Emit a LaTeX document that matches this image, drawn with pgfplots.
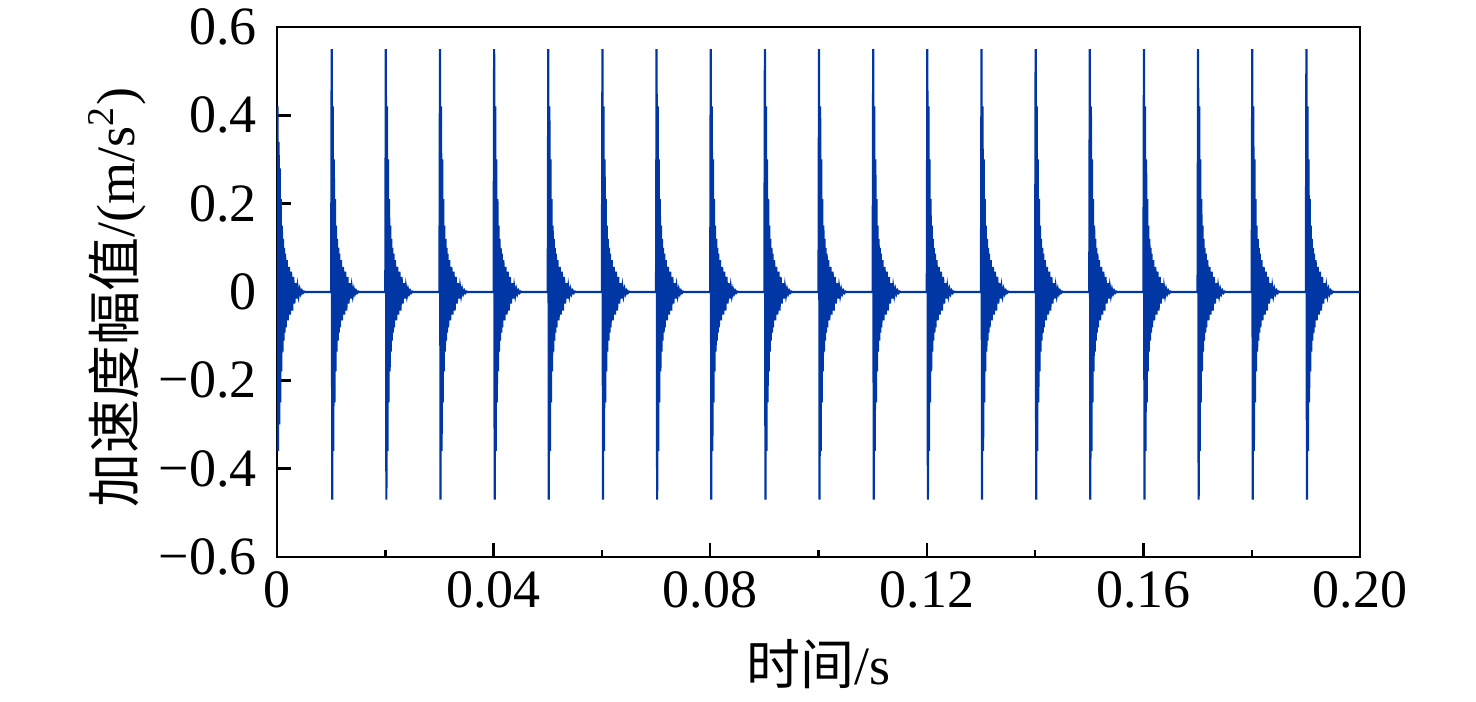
\documentclass[border=0pt]{standalone}
\usepackage{fontspec}
\setmainfont{Liberation Serif}
\newfontfamily\cjk{Noto Sans CJK SC}
\usepackage{pgfplots}
\pgfplotsset{compat=1.18}
\definecolor{sig}{RGB}{0,55,165}
\newcommand\myfont{\fontsize{13.5pt}{16pt}\selectfont}
\begin{document}
\begin{tikzpicture}
\path[use as bounding box] (-69.25pt,-36.25pt) rectangle (299.75pt,139.25pt);
\begin{axis}[
  at={(0,0)}, anchor=south west,
  scale only axis, width=270.75pt, height=132.5pt,
  xmin=0, xmax=0.2, ymin=-0.6, ymax=0.6,
  axis line style={line width=0.6pt, black},
  tick pos=left, tick align=inside,
  major tick length=3.4pt, minor tick length=1.8pt,
  tick style={line width=0.6pt, black},
  xtick={0,0.04,0.08,0.12,0.16,0.2},
  xticklabels={0,0.04,0.08,0.12,0.16,0.20},
  minor xtick={0.02,0.06,0.10,0.14,0.18},
  ytick={-0.6,-0.4,-0.2,0,0.2,0.4,0.6},
  yticklabels={−0.6,−0.4,−0.2,0,0.2,0.4,0.6},
  ticklabel style={font=\myfont},
  yticklabel style={xshift=-1.5pt},
  every axis x label/.style={at={(axis description cs:0.5,-0.202)}, anchor=center, font=\myfont},
  every axis y label/.style={at={(axis description cs:-0.1477,0.489)}, rotate=90, anchor=center, font=\myfont},
  xlabel={{\cjk 时间}/s},
  ylabel={{\cjk 加速度幅值}/(m/s\textsuperscript{2})},
]
\addplot[sig, line width=0.55pt] coordinates {
(0.0000,0) (0.0001,0.42) (0.0002,-0.36) (0.0003,0.34) (0.0004,-0.30) (0.0005,0.28) (0.0006,-0.25) (0.0007,0.21) (0.0008,-0.18) (0.0009,0.15) (0.0010,-0.135) (0.0011,0.12) (0.0012,-0.11) (0.0013,0.10) (0.0014,-0.092) (0.0015,0.087) (0.0016,-0.08) (0.0018,0.072) (0.0020,-0.064) (0.0022,0.057) (0.0024,-0.051) (0.0026,0.046) (0.0028,-0.042) (0.0030,0.034) (0.0032,-0.026) (0.0034,0.020) (0.0036,-0.015) (0.0038,0.011) (0.0040,-0.008) (0.0042,0.006) (0.0044,-0.004) (0.0046,0.003) (0.0048,-0.002) (0.0050,0.001) (0.0052,0)
(0.0100,0) (0.0101,0.55) (0.0102,-0.47) (0.0103,0.42) (0.0104,-0.36) (0.0105,0.30) (0.0106,-0.25) (0.0107,0.21) (0.0108,-0.18) (0.0109,0.15) (0.0110,-0.135) (0.0111,0.12) (0.0112,-0.11) (0.0113,0.10) (0.0114,-0.092) (0.0115,0.087) (0.0116,-0.08) (0.0118,0.072) (0.0120,-0.064) (0.0122,0.057) (0.0124,-0.051) (0.0126,0.046) (0.0128,-0.042) (0.0130,0.034) (0.0132,-0.026) (0.0134,0.020) (0.0136,-0.015) (0.0138,0.011) (0.0140,-0.008) (0.0142,0.006) (0.0144,-0.004) (0.0146,0.003) (0.0148,-0.002) (0.0150,0.001) (0.0152,0)
(0.0200,0) (0.0201,0.55) (0.0202,-0.47) (0.0203,0.42) (0.0204,-0.36) (0.0205,0.30) (0.0206,-0.25) (0.0207,0.21) (0.0208,-0.18) (0.0209,0.15) (0.0210,-0.135) (0.0211,0.12) (0.0212,-0.11) (0.0213,0.10) (0.0214,-0.092) (0.0215,0.087) (0.0216,-0.08) (0.0218,0.072) (0.0220,-0.064) (0.0222,0.057) (0.0224,-0.051) (0.0226,0.046) (0.0228,-0.042) (0.0230,0.034) (0.0232,-0.026) (0.0234,0.020) (0.0236,-0.015) (0.0238,0.011) (0.0240,-0.008) (0.0242,0.006) (0.0244,-0.004) (0.0246,0.003) (0.0248,-0.002) (0.0250,0.001) (0.0252,0)
(0.0300,0) (0.0301,0.55) (0.0302,-0.47) (0.0303,0.42) (0.0304,-0.36) (0.0305,0.30) (0.0306,-0.25) (0.0307,0.21) (0.0308,-0.18) (0.0309,0.15) (0.0310,-0.135) (0.0311,0.12) (0.0312,-0.11) (0.0313,0.10) (0.0314,-0.092) (0.0315,0.087) (0.0316,-0.08) (0.0318,0.072) (0.0320,-0.064) (0.0322,0.057) (0.0324,-0.051) (0.0326,0.046) (0.0328,-0.042) (0.0330,0.034) (0.0332,-0.026) (0.0334,0.020) (0.0336,-0.015) (0.0338,0.011) (0.0340,-0.008) (0.0342,0.006) (0.0344,-0.004) (0.0346,0.003) (0.0348,-0.002) (0.0350,0.001) (0.0352,0)
(0.0400,0) (0.0401,0.55) (0.0402,-0.47) (0.0403,0.42) (0.0404,-0.36) (0.0405,0.30) (0.0406,-0.25) (0.0407,0.21) (0.0408,-0.18) (0.0409,0.15) (0.0410,-0.135) (0.0411,0.12) (0.0412,-0.11) (0.0413,0.10) (0.0414,-0.092) (0.0415,0.087) (0.0416,-0.08) (0.0418,0.072) (0.0420,-0.064) (0.0422,0.057) (0.0424,-0.051) (0.0426,0.046) (0.0428,-0.042) (0.0430,0.034) (0.0432,-0.026) (0.0434,0.020) (0.0436,-0.015) (0.0438,0.011) (0.0440,-0.008) (0.0442,0.006) (0.0444,-0.004) (0.0446,0.003) (0.0448,-0.002) (0.0450,0.001) (0.0452,0)
(0.0500,0) (0.0501,0.55) (0.0502,-0.47) (0.0503,0.42) (0.0504,-0.36) (0.0505,0.30) (0.0506,-0.25) (0.0507,0.21) (0.0508,-0.18) (0.0509,0.15) (0.0510,-0.135) (0.0511,0.12) (0.0512,-0.11) (0.0513,0.10) (0.0514,-0.092) (0.0515,0.087) (0.0516,-0.08) (0.0518,0.072) (0.0520,-0.064) (0.0522,0.057) (0.0524,-0.051) (0.0526,0.046) (0.0528,-0.042) (0.0530,0.034) (0.0532,-0.026) (0.0534,0.020) (0.0536,-0.015) (0.0538,0.011) (0.0540,-0.008) (0.0542,0.006) (0.0544,-0.004) (0.0546,0.003) (0.0548,-0.002) (0.0550,0.001) (0.0552,0)
(0.0600,0) (0.0601,0.55) (0.0602,-0.47) (0.0603,0.42) (0.0604,-0.36) (0.0605,0.30) (0.0606,-0.25) (0.0607,0.21) (0.0608,-0.18) (0.0609,0.15) (0.0610,-0.135) (0.0611,0.12) (0.0612,-0.11) (0.0613,0.10) (0.0614,-0.092) (0.0615,0.087) (0.0616,-0.08) (0.0618,0.072) (0.0620,-0.064) (0.0622,0.057) (0.0624,-0.051) (0.0626,0.046) (0.0628,-0.042) (0.0630,0.034) (0.0632,-0.026) (0.0634,0.020) (0.0636,-0.015) (0.0638,0.011) (0.0640,-0.008) (0.0642,0.006) (0.0644,-0.004) (0.0646,0.003) (0.0648,-0.002) (0.0650,0.001) (0.0652,0)
(0.0700,0) (0.0701,0.55) (0.0702,-0.47) (0.0703,0.42) (0.0704,-0.36) (0.0705,0.30) (0.0706,-0.25) (0.0707,0.21) (0.0708,-0.18) (0.0709,0.15) (0.0710,-0.135) (0.0711,0.12) (0.0712,-0.11) (0.0713,0.10) (0.0714,-0.092) (0.0715,0.087) (0.0716,-0.08) (0.0718,0.072) (0.0720,-0.064) (0.0722,0.057) (0.0724,-0.051) (0.0726,0.046) (0.0728,-0.042) (0.0730,0.034) (0.0732,-0.026) (0.0734,0.020) (0.0736,-0.015) (0.0738,0.011) (0.0740,-0.008) (0.0742,0.006) (0.0744,-0.004) (0.0746,0.003) (0.0748,-0.002) (0.0750,0.001) (0.0752,0)
(0.0800,0) (0.0801,0.55) (0.0802,-0.47) (0.0803,0.42) (0.0804,-0.36) (0.0805,0.30) (0.0806,-0.25) (0.0807,0.21) (0.0808,-0.18) (0.0809,0.15) (0.0810,-0.135) (0.0811,0.12) (0.0812,-0.11) (0.0813,0.10) (0.0814,-0.092) (0.0815,0.087) (0.0816,-0.08) (0.0818,0.072) (0.0820,-0.064) (0.0822,0.057) (0.0824,-0.051) (0.0826,0.046) (0.0828,-0.042) (0.0830,0.034) (0.0832,-0.026) (0.0834,0.020) (0.0836,-0.015) (0.0838,0.011) (0.0840,-0.008) (0.0842,0.006) (0.0844,-0.004) (0.0846,0.003) (0.0848,-0.002) (0.0850,0.001) (0.0852,0)
(0.0900,0) (0.0901,0.55) (0.0902,-0.47) (0.0903,0.42) (0.0904,-0.36) (0.0905,0.30) (0.0906,-0.25) (0.0907,0.21) (0.0908,-0.18) (0.0909,0.15) (0.0910,-0.135) (0.0911,0.12) (0.0912,-0.11) (0.0913,0.10) (0.0914,-0.092) (0.0915,0.087) (0.0916,-0.08) (0.0918,0.072) (0.0920,-0.064) (0.0922,0.057) (0.0924,-0.051) (0.0926,0.046) (0.0928,-0.042) (0.0930,0.034) (0.0932,-0.026) (0.0934,0.020) (0.0936,-0.015) (0.0938,0.011) (0.0940,-0.008) (0.0942,0.006) (0.0944,-0.004) (0.0946,0.003) (0.0948,-0.002) (0.0950,0.001) (0.0952,0)
(0.1000,0) (0.1001,0.55) (0.1002,-0.47) (0.1003,0.42) (0.1004,-0.36) (0.1005,0.30) (0.1006,-0.25) (0.1007,0.21) (0.1008,-0.18) (0.1009,0.15) (0.1010,-0.135) (0.1011,0.12) (0.1012,-0.11) (0.1013,0.10) (0.1014,-0.092) (0.1015,0.087) (0.1016,-0.08) (0.1018,0.072) (0.1020,-0.064) (0.1022,0.057) (0.1024,-0.051) (0.1026,0.046) (0.1028,-0.042) (0.1030,0.034) (0.1032,-0.026) (0.1034,0.020) (0.1036,-0.015) (0.1038,0.011) (0.1040,-0.008) (0.1042,0.006) (0.1044,-0.004) (0.1046,0.003) (0.1048,-0.002) (0.1050,0.001) (0.1052,0)
(0.1100,0) (0.1101,0.55) (0.1102,-0.47) (0.1103,0.42) (0.1104,-0.36) (0.1105,0.30) (0.1106,-0.25) (0.1107,0.21) (0.1108,-0.18) (0.1109,0.15) (0.1110,-0.135) (0.1111,0.12) (0.1112,-0.11) (0.1113,0.10) (0.1114,-0.092) (0.1115,0.087) (0.1116,-0.08) (0.1118,0.072) (0.1120,-0.064) (0.1122,0.057) (0.1124,-0.051) (0.1126,0.046) (0.1128,-0.042) (0.1130,0.034) (0.1132,-0.026) (0.1134,0.020) (0.1136,-0.015) (0.1138,0.011) (0.1140,-0.008) (0.1142,0.006) (0.1144,-0.004) (0.1146,0.003) (0.1148,-0.002) (0.1150,0.001) (0.1152,0)
(0.1200,0) (0.1201,0.55) (0.1202,-0.47) (0.1203,0.42) (0.1204,-0.36) (0.1205,0.30) (0.1206,-0.25) (0.1207,0.21) (0.1208,-0.18) (0.1209,0.15) (0.1210,-0.135) (0.1211,0.12) (0.1212,-0.11) (0.1213,0.10) (0.1214,-0.092) (0.1215,0.087) (0.1216,-0.08) (0.1218,0.072) (0.1220,-0.064) (0.1222,0.057) (0.1224,-0.051) (0.1226,0.046) (0.1228,-0.042) (0.1230,0.034) (0.1232,-0.026) (0.1234,0.020) (0.1236,-0.015) (0.1238,0.011) (0.1240,-0.008) (0.1242,0.006) (0.1244,-0.004) (0.1246,0.003) (0.1248,-0.002) (0.1250,0.001) (0.1252,0)
(0.1300,0) (0.1301,0.55) (0.1302,-0.47) (0.1303,0.42) (0.1304,-0.36) (0.1305,0.30) (0.1306,-0.25) (0.1307,0.21) (0.1308,-0.18) (0.1309,0.15) (0.1310,-0.135) (0.1311,0.12) (0.1312,-0.11) (0.1313,0.10) (0.1314,-0.092) (0.1315,0.087) (0.1316,-0.08) (0.1318,0.072) (0.1320,-0.064) (0.1322,0.057) (0.1324,-0.051) (0.1326,0.046) (0.1328,-0.042) (0.1330,0.034) (0.1332,-0.026) (0.1334,0.020) (0.1336,-0.015) (0.1338,0.011) (0.1340,-0.008) (0.1342,0.006) (0.1344,-0.004) (0.1346,0.003) (0.1348,-0.002) (0.1350,0.001) (0.1352,0)
(0.1400,0) (0.1401,0.55) (0.1402,-0.47) (0.1403,0.42) (0.1404,-0.36) (0.1405,0.30) (0.1406,-0.25) (0.1407,0.21) (0.1408,-0.18) (0.1409,0.15) (0.1410,-0.135) (0.1411,0.12) (0.1412,-0.11) (0.1413,0.10) (0.1414,-0.092) (0.1415,0.087) (0.1416,-0.08) (0.1418,0.072) (0.1420,-0.064) (0.1422,0.057) (0.1424,-0.051) (0.1426,0.046) (0.1428,-0.042) (0.1430,0.034) (0.1432,-0.026) (0.1434,0.020) (0.1436,-0.015) (0.1438,0.011) (0.1440,-0.008) (0.1442,0.006) (0.1444,-0.004) (0.1446,0.003) (0.1448,-0.002) (0.1450,0.001) (0.1452,0)
(0.1500,0) (0.1501,0.55) (0.1502,-0.47) (0.1503,0.42) (0.1504,-0.36) (0.1505,0.30) (0.1506,-0.25) (0.1507,0.21) (0.1508,-0.18) (0.1509,0.15) (0.1510,-0.135) (0.1511,0.12) (0.1512,-0.11) (0.1513,0.10) (0.1514,-0.092) (0.1515,0.087) (0.1516,-0.08) (0.1518,0.072) (0.1520,-0.064) (0.1522,0.057) (0.1524,-0.051) (0.1526,0.046) (0.1528,-0.042) (0.1530,0.034) (0.1532,-0.026) (0.1534,0.020) (0.1536,-0.015) (0.1538,0.011) (0.1540,-0.008) (0.1542,0.006) (0.1544,-0.004) (0.1546,0.003) (0.1548,-0.002) (0.1550,0.001) (0.1552,0)
(0.1600,0) (0.1601,0.55) (0.1602,-0.47) (0.1603,0.42) (0.1604,-0.36) (0.1605,0.30) (0.1606,-0.25) (0.1607,0.21) (0.1608,-0.18) (0.1609,0.15) (0.1610,-0.135) (0.1611,0.12) (0.1612,-0.11) (0.1613,0.10) (0.1614,-0.092) (0.1615,0.087) (0.1616,-0.08) (0.1618,0.072) (0.1620,-0.064) (0.1622,0.057) (0.1624,-0.051) (0.1626,0.046) (0.1628,-0.042) (0.1630,0.034) (0.1632,-0.026) (0.1634,0.020) (0.1636,-0.015) (0.1638,0.011) (0.1640,-0.008) (0.1642,0.006) (0.1644,-0.004) (0.1646,0.003) (0.1648,-0.002) (0.1650,0.001) (0.1652,0)
(0.1700,0) (0.1701,0.55) (0.1702,-0.47) (0.1703,0.42) (0.1704,-0.36) (0.1705,0.30) (0.1706,-0.25) (0.1707,0.21) (0.1708,-0.18) (0.1709,0.15) (0.1710,-0.135) (0.1711,0.12) (0.1712,-0.11) (0.1713,0.10) (0.1714,-0.092) (0.1715,0.087) (0.1716,-0.08) (0.1718,0.072) (0.1720,-0.064) (0.1722,0.057) (0.1724,-0.051) (0.1726,0.046) (0.1728,-0.042) (0.1730,0.034) (0.1732,-0.026) (0.1734,0.020) (0.1736,-0.015) (0.1738,0.011) (0.1740,-0.008) (0.1742,0.006) (0.1744,-0.004) (0.1746,0.003) (0.1748,-0.002) (0.1750,0.001) (0.1752,0)
(0.1800,0) (0.1801,0.55) (0.1802,-0.47) (0.1803,0.42) (0.1804,-0.36) (0.1805,0.30) (0.1806,-0.25) (0.1807,0.21) (0.1808,-0.18) (0.1809,0.15) (0.1810,-0.135) (0.1811,0.12) (0.1812,-0.11) (0.1813,0.10) (0.1814,-0.092) (0.1815,0.087) (0.1816,-0.08) (0.1818,0.072) (0.1820,-0.064) (0.1822,0.057) (0.1824,-0.051) (0.1826,0.046) (0.1828,-0.042) (0.1830,0.034) (0.1832,-0.026) (0.1834,0.020) (0.1836,-0.015) (0.1838,0.011) (0.1840,-0.008) (0.1842,0.006) (0.1844,-0.004) (0.1846,0.003) (0.1848,-0.002) (0.1850,0.001) (0.1852,0)
(0.1900,0) (0.1901,0.55) (0.1902,-0.47) (0.1903,0.42) (0.1904,-0.36) (0.1905,0.30) (0.1906,-0.25) (0.1907,0.21) (0.1908,-0.18) (0.1909,0.15) (0.1910,-0.135) (0.1911,0.12) (0.1912,-0.11) (0.1913,0.10) (0.1914,-0.092) (0.1915,0.087) (0.1916,-0.08) (0.1918,0.072) (0.1920,-0.064) (0.1922,0.057) (0.1924,-0.051) (0.1926,0.046) (0.1928,-0.042) (0.1930,0.034) (0.1932,-0.026) (0.1934,0.020) (0.1936,-0.015) (0.1938,0.011) (0.1940,-0.008) (0.1942,0.006) (0.1944,-0.004) (0.1946,0.003) (0.1948,-0.002) (0.1950,0.001) (0.1952,0)
(0.2000,0)
};
\end{axis}
\end{tikzpicture}
\end{document}
